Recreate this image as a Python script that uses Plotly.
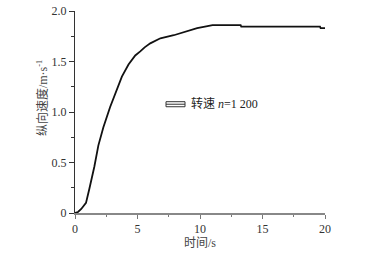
import plotly.graph_objects as go

time_s = [0, 0.24, 0.5, 0.88, 1.15, 1.55, 1.87, 2.27, 2.81, 3.35, 3.75, 4.28, 4.82, 5.22,
          5.57, 6.02, 6.83, 7.9, 8.97, 9.77, 10.6, 11.0, 13.25, 13.3, 19.6, 19.65, 20.0]
speed = [0, 0.01, 0.04, 0.10, 0.24, 0.46, 0.67, 0.85, 1.05, 1.22, 1.35, 1.47, 1.56, 1.60,
         1.64, 1.68, 1.73, 1.76, 1.80, 1.83, 1.85, 1.86, 1.86, 1.845, 1.845, 1.83, 1.83]
x_ticks = [0, 5, 10, 15, 20]
y_ticks = [0, 0.5, 1.0, 1.5, 2.0]
y_tick_labels = ["0", "0.5", "1.0", "1.5", "2.0"]

FONT = "'Liberation Serif', 'Times New Roman', 'Noto Sans CJK SC', serif"

fig = go.Figure()
fig.add_trace(go.Scatter(x=time_s, y=speed, mode="lines",
                         line=dict(color="#111111", width=1.8), showlegend=False))

fig.update_layout(
    width=366, height=255,
    margin=dict(l=75, r=41, t=11, b=42),
    paper_bgcolor="white", plot_bgcolor="white",
    font=dict(family=FONT, size=12, color="#333333"),
    xaxis=dict(range=[0, 20], tickvals=x_ticks, ticks="outside", ticklen=4,
               tickcolor="#777777", showline=True, linecolor="#888888", linewidth=1.5,
               showgrid=False, zeroline=False, automargin=False,
               minor=dict(tickvals=[2.5, 7.5, 12.5, 17.5], ticks="outside", ticklen=2,
                          tickcolor="#777777")),
    yaxis=dict(range=[0, 2], tickvals=y_ticks, ticktext=y_tick_labels, ticks="outside",
               ticklen=5, tickcolor="#333333", showline=True, linecolor="#333333",
               linewidth=1.2, showgrid=False, zeroline=False, automargin=False,
               minor=dict(tickvals=[0.25, 0.75, 1.25, 1.75], ticks="outside", ticklen=3,
                          tickcolor="#333333")),
    annotations=[
        dict(text="纵向速度/m·s<sup>-1</sup>", textangle=-90, xref="paper", yref="paper",
             x=-0.132, y=0.569, showarrow=False, xanchor="center", yanchor="middle",
             font=dict(size=12, family=FONT, color="#444444")),
        dict(text="时间/s", xref="paper", yref="paper", x=0.5, y=-0.149,
             showarrow=False, xanchor="center", yanchor="middle",
             font=dict(size=12, family=FONT, color="#444444")),
        dict(text="转速 <i>n</i>=1 200", xref="paper", yref="paper", x=0.456, y=0.54,
             xanchor="left", yanchor="middle", showarrow=False,
             font=dict(size=12, family=FONT, color="#222222")),
    ],
    shapes=[
        dict(type="rect", xref="paper", yref="paper", x0=0.364, x1=0.44, y0=0.526, y1=0.551,
             line=dict(color="#333333", width=1), fillcolor="white"),
        dict(type="line", xref="paper", yref="paper", x0=0.364, x1=0.44, y0=0.5385, y1=0.5385,
             line=dict(color="#333333", width=1)),
    ],
)

fig.write_html("out.html", config={"displayModeBar": False},
               post_script="document.body.style.margin='0';")
